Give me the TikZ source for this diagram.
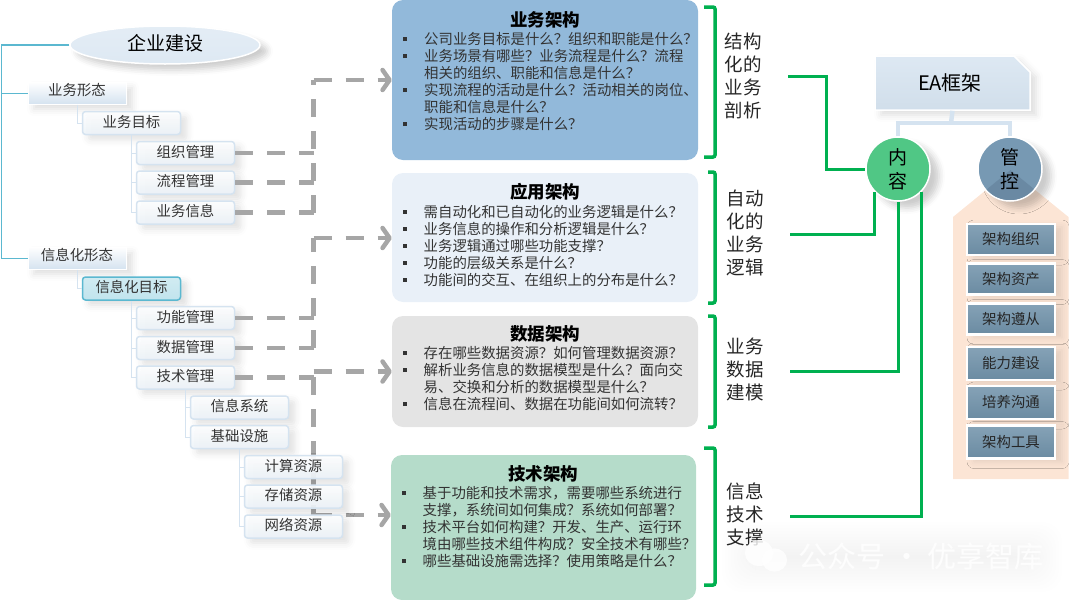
\documentclass[tikz,border=0pt]{standalone}
\usepackage{fontspec}
\setmainfont{Noto Sans CJK SC}
\usepackage{xcolor}
\usetikzlibrary{arrows.meta,shadows.blur,shapes.misc,shapes.geometric}
\definecolor{treeedge}{RGB}{213,227,240}
\definecolor{treeteal}{RGB}{91,184,208}
\definecolor{dashgray}{RGB}{166,166,166}
\definecolor{eagreen}{RGB}{0,176,80}
\definecolor{slateblue}{RGB}{112,146,170}
\newcommand{\qitem}[1]{\par\noindent\makebox[22pt][l]{\hspace{1pt}\rule[3.6pt]{4pt}{4pt}}#1}
\newcommand{\qcont}[1]{\par\noindent\hspace*{22pt}#1}
\tikzset{
  softshadow/.style={blur shadow={shadow xshift=6pt,shadow yshift=-5pt,shadow blur radius=7pt,shadow opacity=13}},
  topbox/.style={ellipse,minimum width=190pt,minimum height=38pt,inner sep=0pt,draw=white,line width=1.5pt,top color=treeedge!65!white,bottom color=treeedge!80!white,blur shadow={shadow xshift=7pt,shadow yshift=-6pt,shadow blur radius=6pt,shadow opacity=20},font=\fontsize{19}{23}\selectfont},
  formbox/.style={rectangle,minimum width=98pt,minimum height=21pt,inner sep=0pt,text depth=9pt,draw=white,line width=1pt,top color=white!95!treeedge,bottom color=treeedge,softshadow,font=\fontsize{14.4}{17}\selectfont,text=black!80},
  treebox/.style={rectangle,rounded corners=3pt,minimum width=98pt,minimum height=23pt,inner sep=0pt,text depth=4pt,draw=treeedge,line width=1.5pt,top color=white!97!treeedge,bottom color=treeedge!45!white,fill opacity=.93,text opacity=1,softshadow,font=\fontsize{14.4}{17}\selectfont,text=black!80},
  activebox/.style={treebox,draw=treeteal,top color=treeteal!28!white,bottom color=treeteal!38!white,fill opacity=1},
  treeline/.style={draw=treeedge,line width=1pt},
  tealline/.style={draw=treeteal,line width=1.5pt},
  dashline/.style={draw=dashgray,line width=4.5pt,dash pattern=on 18pt off 14pt},
  dasharrow/.style={dashline,-{Straight Barb[length=7pt,width=20pt,line width=4.5pt,round]}},
  archbox/.style={rectangle,rounded corners=11pt,inner sep=0pt,minimum width=306pt},
  archtitle/.style={inner sep=0pt,font=\bfseries\fontsize{17.5}{20}\selectfont,text=black},
  archtext/.style={anchor=north west,inner sep=0pt,text width=296pt,align=left,font=\fontsize{14.4}{17}\selectfont,text=black!80},
  bracketline/.style={draw=eagreen,line width=3.5pt,rounded corners=2pt},
  sidelabel/.style={inner sep=0pt,align=center,font=\fontsize{18.5}{23}\selectfont,text=black!85},
  greenline/.style={draw=eagreen,line width=3pt},
  barline/.style={draw=treeedge,line width=4.5pt},
  roundnode/.style={circle,minimum size=64pt,inner sep=0pt,draw=white,line width=1.5pt,blur shadow={shadow xshift=9pt,shadow yshift=-7pt,shadow blur radius=6pt,shadow opacity=20},align=center,font=\fontsize{19}{24}\selectfont,text=black},
  govbox/.style={rectangle,minimum width=88pt,inner sep=0pt,draw=white,line width=2.5pt,top color=slateblue!85!white,bottom color=slateblue!95!black,blur shadow={shadow xshift=7pt,shadow yshift=-3pt,shadow blur radius=7pt,shadow opacity=10},font=\fontsize{14.4}{17}\selectfont,text=black!85},
}
\begin{document}
\begin{tikzpicture}[x=1pt,y=1pt,yscale=-1,xscale=1]
\useasboundingbox (0,0) rectangle (1080,600);
%Shape: Tree boxes
\node[topbox] (qiye) at (165,45) {\raisebox{5pt}{企业建设}};
\node[formbox] (yewuxt) at (77,93.5) {业务形态};
\node[treebox] (yewumb) at (131.5,123) {业务目标};
\node[treebox] (zuzhi) at (185.5,153) {组织管理};
\node[treebox] (liucheng) at (185.5,182.5) {流程管理};
\node[treebox] (yewuxx) at (185.5,212.5) {业务信息};
\node[formbox] (xinxixt) at (77,258.5) {信息化形态};
\node[activebox] (xinximb) at (131.5,288.5) {信息化目标};
\node[treebox] (gongneng) at (185.5,318) {功能管理};
\node[treebox] (shuju) at (185.5,348) {数据管理};
\node[treebox] (jishu) at (185.5,377.5) {技术管理};
\node[treebox] (xitong) at (239.5,407.5) {信息系统};
\node[treebox] (sheshi) at (239.5,437) {基础设施};
%Shape: Architecture boxes
\node[archbox,fill={rgb,255:red,146;green,185;blue,218},minimum height=160pt] (yewuarch) at (545,80) {};
\node[archbox,fill={rgb,255:red,233;green,240;blue,248},minimum height=129pt] (yingyong) at (545,237.5) {};
\node[archbox,fill={rgb,255:red,228;green,228;blue,228},minimum height=111pt] (shujuarch) at (545,371.5) {};
\node[archbox,fill={rgb,255:red,181;green,220;blue,202},minimum height=145pt,minimum width=305pt] (jishuarch) at (543.5,527.5) {};
\node[archtitle] at (545,20) {业务架构};
\node[archtext] at (402,27.5) {\qitem{公司业务目标是什么？组织和职能是什么？}
\qitem{业务场景有哪些？业务流程是什么？流程}
\qcont{相关的组织、职能和信息是什么？}
\qitem{实现流程的活动是什么？活动相关的岗位、}
\qcont{职能和信息是什么？}
\qitem{实现活动的步骤是什么？}};
\node[archtitle] at (545,192) {应用架构};
\node[archtext] at (401.5,200) {\qitem{需自动化和已自动化的业务逻辑是什么？}
\qitem{业务信息的操作和分析逻辑是什么？}
\qitem{业务逻辑通过哪些功能支撑？}
\qitem{功能的层级关系是什么？}
\qitem{功能间的交互、在组织上的分布是什么？}};
\node[archtitle] at (545,334) {数据架构};
\node[archtext] at (401.5,341.5) {\qitem{存在哪些数据资源？如何管理数据资源？}
\qitem{解析业务信息的数据模型是什么？面向交}
\qcont{易、交换和分析的数据模型是什么？}
\qitem{信息在流程间、数据在功能间如何流转？}};
\node[archtitle] at (543,474) {技术架构};
\node[archtext] at (400.5,481.5) {\qitem{基于功能和技术需求，需要哪些系统进行}
\qcont{支撑，系统间如何集成？系统如何部署？}
\qitem{技术平台如何构建？开发、生产、运行环}
\qcont{境由哪些技术组件构成？安全技术有哪些？}
\qitem{哪些基础设施需选择？使用策略是什么？}};
%Curve Lines: dashed groups
\coordinate (busv) at (313.5,80);
\coordinate (appv) at (313.5,238);
\coordinate (datav) at (313.5,377);
\coordinate (techv) at (313.5,515);
\draw[dashline] (zuzhi.east) -- (zuzhi.east -| busv);
\draw[dashline] (liucheng.east) -- (liucheng.east -| busv);
\draw[dashline] (yewuxx.east) -- (yewuxx.east -| busv);
\draw[dashline] (busv |- yewuxx.east) -- (busv);
\draw[dasharrow] (busv) -- (yewuarch.west);
\draw[dashline] (gongneng.east) -- (gongneng.east -| appv);
\draw[dashline] (shuju.east) -- (shuju.east -| appv);
\draw[dashline] (jishu.east) -- (jishu.east -| appv);
\draw[dashline] (appv |- shuju.east) -- (appv);
\draw[dasharrow] (appv) -- (yingyong.west |- appv);
\draw[dashline] (datav) -- (techv);
\draw[dasharrow] (datav |- shujuarch.west) -- (shujuarch.west);
\draw[dasharrow] (techv) -- (jishuarch.west |- techv);
%Shape: Resource boxes
\node[treebox] (jisuan) at (293.5,467) {计算资源};
\node[treebox] (cunchu) at (293.5,496.5) {存储资源};
\node[treebox] (wangluo) at (293.5,526.5) {网络资源};
%Shape: Tree lines
\coordinate (rail) at (1.5,45);
\draw[tealline] (qiye.west) -- (rail) |- (xinxixt.west);
\draw[tealline] (rail |- yewuxt) -- (yewuxt.west);
\draw[treeline] (yewuxt.south) |- (yewumb.west);
\draw[treeline] (xinxixt.south) |- (xinximb.west);
\draw[treeline] (yewumb.south) |- (yewuxx.west);
\draw[treeline] (yewumb.south |- zuzhi) -- (zuzhi.west);
\draw[treeline] (yewumb.south |- liucheng) -- (liucheng.west);
\draw[treeline] (xinximb.south) |- (jishu.west);
\draw[treeline] (xinximb.south |- gongneng) -- (gongneng.west);
\draw[treeline] (xinximb.south |- shuju) -- (shuju.west);
\draw[treeline] (jishu.south) |- (sheshi.west);
\draw[treeline] (jishu.south |- xitong) -- (xitong.west);
\draw[treeline] (sheshi.south) |- (wangluo.west);
\draw[treeline] (sheshi.south |- jisuan) -- (jisuan.west);
\draw[treeline] (sheshi.south |- cunchu) -- (cunchu.west);
%Shape: Brackets
\draw[bracketline] (704,7) -- (715,7) -- (715,157) -- (704,157);
\draw[bracketline] (708,172) -- (715,172) -- (715,303) -- (708,303);
\draw[bracketline] (708,316) -- (715,316) -- (715,427) -- (708,427);
\draw[bracketline] (704,448) -- (715,448) -- (715,585) -- (704,585);
\node[sidelabel] at (743,76) {结构\\化的\\业务\\剖析};
\node[sidelabel] at (745,233) {自动\\化的\\业务\\逻辑};
\node[sidelabel] at (745,369) {业务\\数据\\建模};
\node[sidelabel] at (745,514) {信息\\技术\\支撑};
%Shape: Governance panel
\path[fill={rgb,255:red,252;green,229;blue,213}] (1010.5,170) -- (1068.5,217) -- (1068.5,479) -- (953,479) -- (953,217) -- cycle;
\node[chamfered rectangle,chamfered rectangle corners=north east,chamfered rectangle xsep=8pt,chamfered rectangle ysep=8pt,minimum width=155pt,minimum height=54pt,inner sep=0pt,draw=white,line width=1.5pt,top color=treeedge!80!white,middle color=treeedge!80!white,bottom color=treeedge!95!gray,softshadow,font=\fontsize{20}{23}\selectfont] (eabox) at (952.5,83) {\raisebox{-2pt}{EA框架}\hspace*{5pt}};
\node[roundnode,fill={rgb,255:red,80;green,199;blue,133}] (neirong) at (898,169) {内\\容};
\node[roundnode,fill={rgb,255:red,119;green,153;blue,179}] (guankong) at (1010,169) {};
\begin{scope}
\clip (1010.5,170) -- (1068.5,217) -- (953,217) -- cycle;
\fill[fill={rgb,255:red,106;green,137;blue,163}] (guankong.center) circle (31pt);
\end{scope}
\node[inner sep=0pt,align=center,font=\fontsize{19}{24}\selectfont,text=black] at (guankong.center) {管\\控};
\node[govbox,minimum height=31pt] (gov1) at (1011,239.5) {架构组织};
\node[govbox,minimum height=31pt] (gov2) at (1011,279) {架构资产};
\node[govbox,minimum height=31pt] (gov3) at (1011,319) {架构遵从};
\node[govbox,minimum height=33pt] (gov4) at (1011,363.5) {能力建设};
\node[govbox,minimum height=33pt] (gov5) at (1011,402.5) {培养沟通};
\node[govbox,minimum height=33pt] (gov6) at (1011,442) {架构工具};
%Curve Lines: top bar
\coordinate (eabar) at (951,123);
\draw[barline] (eabox.south) -- (eabar);
\draw[barline] (neirong.north) |- (eabar) -| (guankong.north);
%Curve Lines: green links
\coordinate (linka) at (788,76);
\coordinate (linkb) at (790,234);
\coordinate (linkc) at (790,371);
\coordinate (linkd) at (790,516);
\coordinate (linkturn) at (826,76);
\draw[greenline] (linka) -- (linkturn) |- (neirong.west);
\draw[greenline] (linkb) -| (neirong.225);
\draw[greenline] (linkc) -| (neirong.south);
\draw[greenline] (linkd) -| (neirong.-45);
%Shape: Watermark
\foreach \k in {0,...,11}
  \fill[black,opacity=.005,rounded corners=20pt] (722+3*\k,522+3*\k) rectangle (1062-3*\k,592-3*\k);
\fill[white,opacity=.8] (759,553) ellipse (14pt and 13pt);
\fill[white,opacity=.85] (774.5,560) ellipse (12.5pt and 11.5pt);
\node[inner sep=0pt,font=\fontsize{29}{32}\selectfont,text=white,text opacity=.8] at (921,556) {公众号 · 优享智库};
\end{tikzpicture}
\end{document}
